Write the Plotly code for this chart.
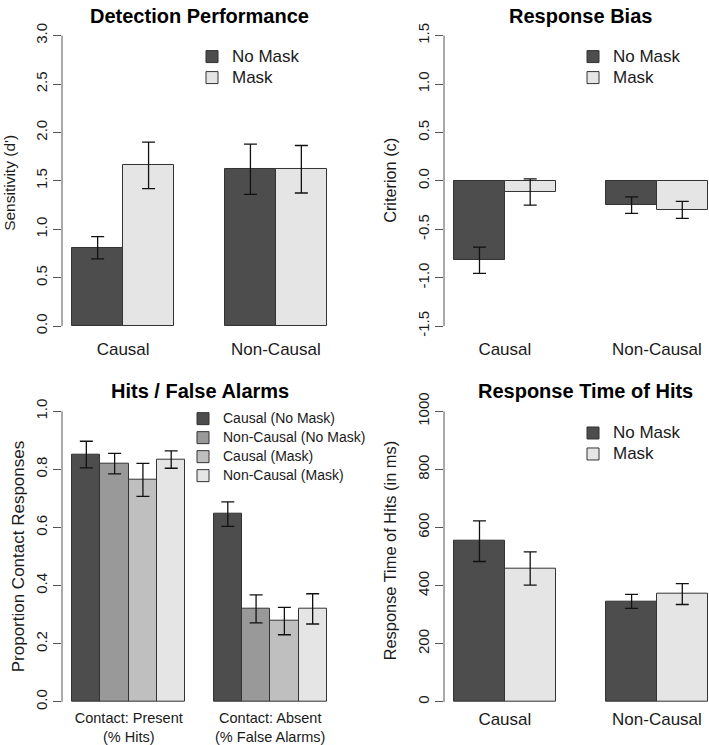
import plotly.graph_objects as go

W, H = 709, 745

# ---------------- data ----------------
groups_cond = ["Causal", "Non-Causal"]
cond_series = ["No Mask", "Mask"]

dprime_nomask = [0.81, 1.62]
dprime_mask = [1.66, 1.62]
dprime_se_nomask = [0.115, 0.26]
dprime_se_mask = [0.24, 0.245]

crit_nomask = [-0.82, -0.25]
crit_mask = [-0.115, -0.30]
crit_se_nomask = [0.135, 0.085]
crit_se_mask = [0.135, 0.088]

hf_groups = ["Contact: Present<br>(% Hits)", "Contact: Absent<br>(% False Alarms)"]
hf_series = ["Causal (No Mask)", "Non-Causal (No Mask)", "Causal (Mask)", "Non-Causal (Mask)"]
hf_vals = [[0.851, 0.646], [0.820, 0.320], [0.764, 0.278], [0.834, 0.320]]
hf_se = [[0.046, 0.042], [0.035, 0.048], [0.057, 0.047], [0.030, 0.052]]

rt_nomask = [553, 346]
rt_mask = [459, 371]
rt_se_nomask = [70, 24]
rt_se_mask = [57, 36]

ticks_d = [0.0, 0.5, 1.0, 1.5, 2.0, 2.5, 3.0]
ticks_c = [-1.5, -1.0, -0.5, 0.0, 0.5, 1.0, 1.5]
ticks_hf = [0.0, 0.2, 0.4, 0.6, 0.8, 1.0]
ticks_rt = [0, 200, 400, 600, 800, 1000]

# ---------------- style ----------------
FONT = "Liberation Sans, Arial, sans-serif"
C_DARK, C_MID, C_LT, C_VLT = "#4d4d4d", "#999999", "#bfbfbf", "#e5e5e5"
EDGE = "#333333"
AXC = "#555555"
TXT = "#1a1a1a"


def px_x(p):
    return p / W


def px_y(p):
    return 1 - p / H


fig = go.Figure()


def add_bars(ax, series_names, vals, ses, colors, legend, n_groups, text_fs):
    n = len(series_names)
    xa = "x" if ax == 1 else f"x{ax}"
    ya = "y" if ax == 1 else f"y{ax}"
    for j in range(n):
        xs = [1 + g * (n + 1) + j + 0.5 for g in range(n_groups)]
        fig.add_trace(go.Bar(
            x=xs, y=vals[j], width=1,
            name=f'<span style="font-size:{text_fs}px">{series_names[j]}</span>',
            marker=dict(color=colors[j], line=dict(color=EDGE, width=1)),
            error_y=dict(type="data", array=ses[j], visible=True,
                         color="#111111", thickness=1.3, width=6.5),
            xaxis=xa, yaxis=ya, legend=legend, showlegend=True,
        ))


def group_centers(n, n_groups):
    return [1 + g * (n + 1) + n / 2 for g in range(n_groups)]


add_bars(1, cond_series, [dprime_nomask, dprime_mask],
         [dprime_se_nomask, dprime_se_mask], [C_DARK, C_VLT], "legend", 2, 17)
add_bars(2, cond_series, [crit_nomask, crit_mask],
         [crit_se_nomask, crit_se_mask], [C_DARK, C_VLT], "legend2", 2, 17)
add_bars(3, hf_series, hf_vals, hf_se, [C_DARK, C_MID, C_LT, C_VLT], "legend3", 2, 14)
add_bars(4, cond_series, [rt_nomask, rt_mask],
         [rt_se_nomask, rt_se_mask], [C_DARK, C_VLT], "legend4", 2, 17)


def yrange(ticks):
    lo, hi = min(ticks), max(ticks)
    pad = 0.04 * (hi - lo)
    return [lo - pad, hi + pad]


def fmt(t, d):
    return f"{t:.{d}f}"


L_left, L_right = 62, 337
R_left, R_right = 444, 709
top_t, top_b = 17.2, 334.8
bot_t, bot_b = 397.5, 715.1
r_xrange = [0.8, 0.8 + (R_right - R_left) / 50.7]

axes_cfg = [
    (1, (L_left, L_right), (top_t, top_b), [0.8, 6.2], ticks_d, 1, 2, groups_cond, 17, -1),
    (2, (R_left, R_right), (top_t, top_b), r_xrange, ticks_c, 1, 2, groups_cond, 17, -1),
    (3, (L_left, L_right), (bot_t, bot_b), [0.64, 10.36], ticks_hf, 1, 4, hf_groups, 14.5, -6),
    (4, (R_left, R_right), (bot_t, bot_b), r_xrange, ticks_rt, 0, 2, groups_cond, 17, -6),
]

layout_axes = {}
shapes = []
for idx, xd, yd, xr, ticks, dec, nser, xlabels, xfs, stand in axes_cfg:
    xk = "xaxis" if idx == 1 else f"xaxis{idx}"
    yk = "yaxis" if idx == 1 else f"yaxis{idx}"
    xa = "x" if idx == 1 else f"x{idx}"
    ya = "y" if idx == 1 else f"y{idx}"
    layout_axes[xk] = dict(
        domain=[px_x(xd[0]), px_x(xd[1])], range=xr, anchor=ya,
        tickmode="array", tickvals=group_centers(nser, 2), ticktext=xlabels,
        ticks="", showline=False, showgrid=False, zeroline=False,
        tickfont=dict(size=xfs, color=TXT, family=FONT),
        ticklabelstandoff=stand, fixedrange=True,
    )
    layout_axes[yk] = dict(
        domain=[px_y(yd[1]), px_y(yd[0])], range=yrange(ticks), anchor=xa,
        tickmode="array", tickvals=ticks, ticktext=[fmt(t, dec) for t in ticks],
        ticks="outside", ticklen=8, tickwidth=1, tickcolor=AXC,
        tickangle=-90, showline=False, showgrid=False, zeroline=False,
        tickfont=dict(size=15, color=TXT, family=FONT), fixedrange=True,
    )
    # R-style axis line spanning only the tick range
    shapes.append(dict(type="line", xref=f"{xa} domain", yref=ya,
                       x0=0, x1=0, y0=min(ticks), y1=max(ticks),
                       line=dict(color=AXC, width=1)))

annotations = []
titles = [
    ("Detection Performance", (L_left + L_right) / 2, 9),
    ("Response Bias", (444 + 717.8) / 2, 9),
    ("Hits / False Alarms", (L_left + L_right) / 2, 389),
    ("Response Time of Hits", 585, 389),
]
for t, xp, yp in titles:
    annotations.append(dict(text=f"<b>{t}</b>", x=px_x(xp), y=px_y(yp),
                            xref="paper", yref="paper", showarrow=False,
                            xanchor="center", yanchor="middle",
                            font=dict(size=20, color="#000000", family=FONT)))

ytitles = [
    ("Sensitivity (d')", 10, 178, 15.5),
    ("Criterion (c)", 390, 176, 16.3),
    ("Proportion Contact Responses", 18, 556, 17),
    ("Response Time of Hits (in ms)", 390, 550, 16.4),
]
for t, xp, yp, fs in ytitles:
    annotations.append(dict(text=t, x=px_x(xp), y=px_y(yp), xref="paper", yref="paper",
                            showarrow=False, textangle=-90, xanchor="center",
                            yanchor="middle", font=dict(size=fs, color=TXT, family=FONT)))


def legend_cfg(text_x, rows_center_y, n_items, spacing):
    fs = (spacing - 3) / 1.3
    h = max(1.3 * fs, 16) + 3
    first = rows_center_y - (n_items - 1) / 2 * h
    top = first - h / 2 - 5
    return dict(x=px_x(text_x - 40), y=px_y(top), xanchor="left", yanchor="top",
                bgcolor="rgba(0,0,0,0)", borderwidth=0, traceorder="normal",
                font=dict(size=fs, color=TXT, family=FONT), itemclick=False,
                itemdoubleclick=False)


fig.update_layout(
    width=W, height=H, margin=dict(l=0, r=0, t=0, b=0),
    paper_bgcolor="white", plot_bgcolor="white",
    font=dict(family=FONT, color=TXT),
    barmode="overlay", bargap=0, showlegend=True,
    legend=legend_cfg(232, 60.5, 2, 21),
    legend2=legend_cfg(613, 60.5, 2, 21),
    legend3=legend_cfg(223, 445, 4, 17.3),
    legend4=legend_cfg(613, 441.5, 2, 21),
    shapes=shapes, annotations=annotations,
    **layout_axes,
)

fig.write_html(
    "out.html",
    config={"displayModeBar": False},
    post_script="document.body.style.margin='0';document.body.style.overflow='hidden';",
)
